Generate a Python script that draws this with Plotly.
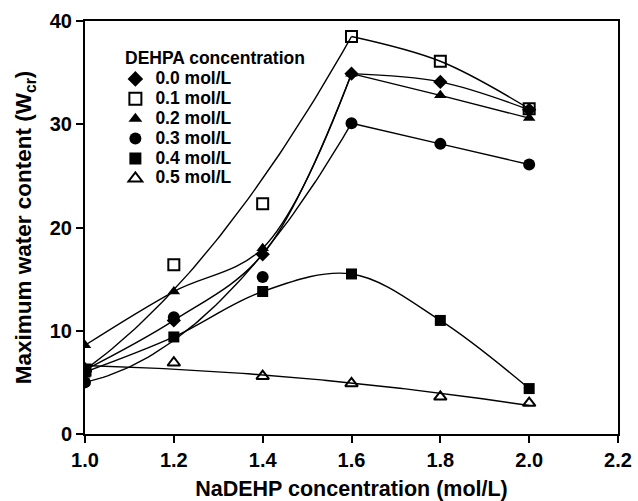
import numpy as np
import plotly.graph_objects as go

# ---- data ----
nadehp = [1.0, 1.2, 1.4, 1.6, 1.8, 2.0]
labels = ["0.0 mol/L", "0.1 mol/L", "0.2 mol/L", "0.3 mol/L", "0.4 mol/L", "0.5 mol/L"]
w_00 = [6.2, 11.0, 17.4, 34.9, 34.1, 31.4]
w_01 = [6.2, 16.4, 22.3, 38.5, 36.1, 31.5]
w_02 = [8.6, 13.8, 18.0, 34.9, 32.8, 30.6]
w_03 = [5.0, 11.3, 15.2, 30.1, 28.1, 26.1]
w_04 = [6.0, 9.4, 13.8, 15.5, 11.0, 4.4]
w_05 = [6.3, 6.9, 5.6, 4.9, 3.6, 3.0]
series = [w_00, w_01, w_02, w_03, w_04, w_05]
legend_title = "DEHPA concentration"

# ---- styles ----
symbols = ["diamond", "square-open", "triangle-up", "circle", "square", "triangle-up-open"]
sizes = [11, 11, 11, 12, 11, 11]
curve_modes = ["split_spline", "split_quad", "split_spline", "split_quad", "spline", "quad_all"]
FONT = "Liberation Sans, Arial, sans-serif"

fig = go.Figure()

def quad_ends(xs, ys, n=60):
    xs = np.asarray(xs, float); ys = np.asarray(ys, float)
    x0, x1 = xs[0], xs[-1]
    base = lambda x: ys[0] + (ys[-1] - ys[0]) / (x1 - x0) * (x - x0)
    g = lambda x: (x - x0) * (x - x1)
    xi, yi = xs[1:-1], ys[1:-1]
    c = np.sum(g(xi) * (yi - base(xi))) / np.sum(g(xi) ** 2)
    xx = np.linspace(x0, x1, n)
    return xx, base(xx) + c * g(xx)

line_style = dict(color="black", width=1.4)
for ys, mode in zip(series, curve_modes):
    if mode == "spline":
        fig.add_trace(go.Scatter(x=nadehp, y=ys, mode="lines", line=dict(shape="spline", **line_style),
                                 showlegend=False, hoverinfo="skip"))
    elif mode == "quad_all":
        p = np.polyfit(nadehp, ys, 2)
        xx = np.linspace(nadehp[0], nadehp[-1], 80)
        fig.add_trace(go.Scatter(x=xx, y=np.polyval(p, xx), mode="lines", line=line_style,
                                 showlegend=False, hoverinfo="skip"))
    else:
        k = nadehp.index(1.6)
        if mode == "split_spline":
            fig.add_trace(go.Scatter(x=nadehp[:k + 1], y=ys[:k + 1], mode="lines",
                                     line=dict(shape="spline", **line_style), showlegend=False, hoverinfo="skip"))
        else:
            xx, yy = quad_ends(nadehp[:k + 1], ys[:k + 1])
            fig.add_trace(go.Scatter(x=xx, y=yy, mode="lines", line=line_style,
                                     showlegend=False, hoverinfo="skip"))
        fig.add_trace(go.Scatter(x=nadehp[k:], y=ys[k:], mode="lines",
                                 line=dict(shape="spline", **line_style), showlegend=False, hoverinfo="skip"))

for ys, lab, sym, sz in zip(series, labels, symbols, sizes):
    fig.add_trace(go.Scatter(
        x=nadehp, y=ys, mode="markers",
        name='<span style="font-size:17.5px">' + lab + '</span>',
        marker=dict(symbol=sym, size=sz, color="black",
                    line=dict(color="black", width=2 if "open" in sym else 0)),
    ))

tick_font = dict(family=FONT, size=20, color="black", weight="bold")

fig.add_annotation(
    xref="paper", yref="paper", x=0.071, y=0.911, xanchor="left", yanchor="middle",
    text="<b>" + legend_title + "</b>", showarrow=False,
    font=dict(family=FONT, size=17.5, color="black"),
)

fig.update_layout(
    width=638, height=501,
    margin=dict(l=85, r=20, t=21, b=67),
    paper_bgcolor="white", plot_bgcolor="white",
    font=dict(family=FONT, color="black"),
    showlegend=True,
    legend=dict(
        x=0.057, y=0.896, xanchor="left", yanchor="top",
        bgcolor="rgba(0,0,0,0)", borderwidth=0,
        font=dict(family=FONT, size=13, color="black", weight="bold"),
        tracegroupgap=0, itemsizing="constant",
    ),
    xaxis=dict(
        range=[1.0, 2.2], dtick=0.2, tick0=1.0, tickformat=".1f",
        showline=True, linecolor="black", linewidth=2, mirror=True,
        ticks="outside", ticklen=7, tickwidth=1.5, tickcolor="black",
        showgrid=False, zeroline=False, automargin=False,
        tickfont=tick_font,
        title=dict(text="<b>NaDEHP concentration (mol/L)</b>",
                   font=dict(family=FONT, size=21.5, color="black"), standoff=14),
    ),
    yaxis=dict(
        range=[0, 40], dtick=10,
        showline=True, linecolor="black", linewidth=2, mirror=True,
        ticks="outside", ticklen=7, tickwidth=1.5, tickcolor="black",
        showgrid=False, zeroline=False, automargin=False,
        tickfont=tick_font,
        title=dict(text="<b>Maximum water content (W<sub>cr</sub>)</b>",
                   font=dict(family=FONT, size=22.5, color="black"), standoff=12),
    ),
)

fig.write_html("out.html")
